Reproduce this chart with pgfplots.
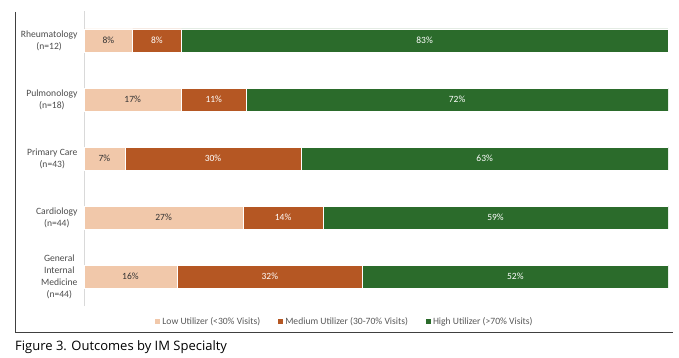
\documentclass[border=0pt]{standalone}
\usepackage{pgfplots}
\pgfplotsset{compat=1.18}
\usepackage{pgfplotstable}
\usepackage{fontspec}
\setmainfont{Carlito}
\newfontfamily\capfont{Open Sans}
\definecolor{lowc}{HTML}{F1C8AA}
\definecolor{medc}{HTML}{B55723}
\definecolor{highc}{HTML}{2B6B2B}
\pgfplotstableread{
cat low med high
4 8.33 8.33 83.33
3 16.67 11.11 72.22
2 6.98 30.23 62.79
1 27.27 13.64 59.09
0 15.91 31.82 52.27
}\data
\pgfplotsset{geom/.style={at={(84pt,-306pt)}, anchor=south west, x=5.84pt, y=59pt, xmin=0, xmax=100, ymin=-0.5, ymax=4.5}}
\begin{document}
\begin{tikzpicture}
\path (0pt,0pt) rectangle (679pt,-358pt);
\draw[black!75, line width=1pt] (15pt,-12pt) -- (15pt,-332pt) -- (673pt,-332pt);
\node[anchor=base west, font=\capfont\fontsize{13}{15}\selectfont, inner sep=0pt] at (15pt,-350pt) {Figure 3. Outcomes by IM Specialty};
\begin{axis}[geom, xbar stacked, bar width=23pt,
 axis x line=none, axis y line*=left, y axis line style={draw=black!15},
 xtick=\empty, ytick={0,1,2,3,4},
 yticklabels={{General\\Internal\\Medicine\\(n=44)}, {Cardiology\\(n=44)}, {Primary Care\\(n=43)}, {Pulmonology\\(n=18)}, {Rheumatology\\(n=12)}},
 yticklabel style={align=center, font=\fontsize{9.6}{12}\selectfont, text=black!70, xshift=-3pt},
 major tick length=0pt,
 legend style={at={(0.447,-0.054)}, anchor=center, legend columns=3, draw=none, font=\fontsize{9.6}{11}\selectfont, text=black!65, nodes={inner xsep=2pt}, /tikz/every even column/.append style={column sep=16pt}},
 legend image code/.code={\fill[#1, draw=none] (0pt,-2.5pt) rectangle (5pt,2.5pt);},
]
\addplot[fill=lowc, draw=white, line width=0.5pt] table[x=low, y=cat] {\data};
\addplot[fill=medc, draw=white, line width=0.5pt] table[x=med, y=cat] {\data};
\addplot[fill=highc, draw=white, line width=0.5pt] table[x=high, y=cat] {\data};
\legend{Low Utilizer (<30\% Visits), Medium Utilizer (30-70\% Visits), High Utilizer (>70\% Visits)}
\end{axis}
\begin{axis}[geom, hide axis,
 /pgf/number format/assume math mode=true,
 nodes near coords={\pgfmathprintnumber[fixed,precision=0]{\pgfplotspointmeta}\%},
 point meta=explicit,
 nodes near coords style={anchor=center, font=\fontsize{9.5}{11}\selectfont}]
\addplot[draw=none, mark=none, nodes near coords style={text=black!80}] table[x expr=\thisrow{low}/2, y=cat, meta=low] {\data};
\addplot[draw=none, mark=none, nodes near coords style={text=white}] table[x expr=\thisrow{low}+\thisrow{med}/2, y=cat, meta=med] {\data};
\addplot[draw=none, mark=none, nodes near coords style={text=white}] table[x expr=\thisrow{low}+\thisrow{med}+\thisrow{high}/2, y=cat, meta=high] {\data};
\end{axis}
\end{tikzpicture}
\end{document}
